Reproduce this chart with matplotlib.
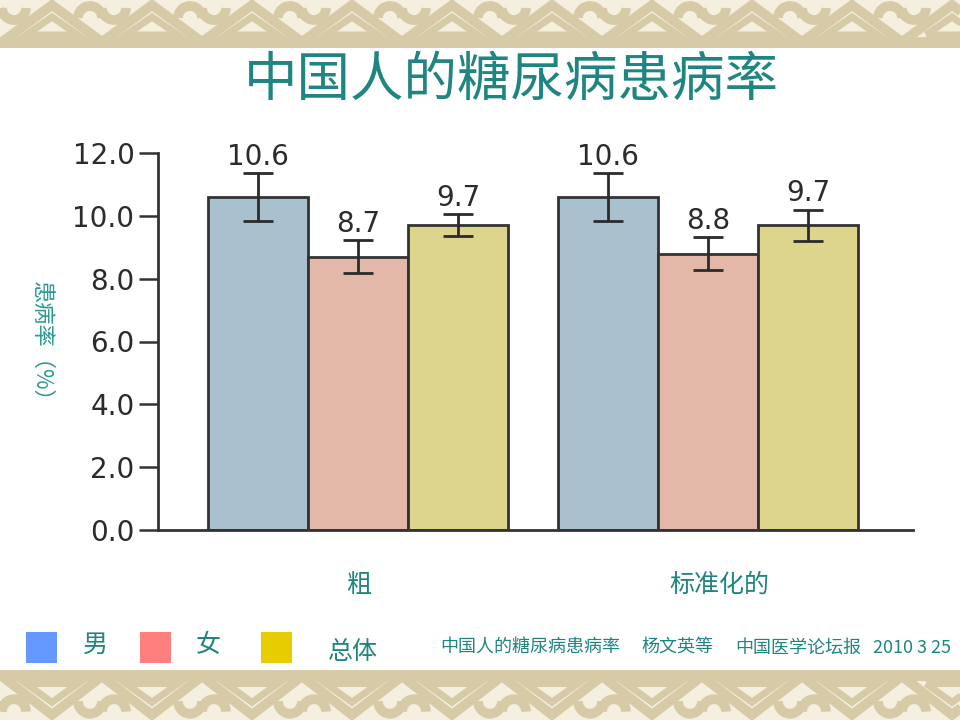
import matplotlib
matplotlib.use("Agg")
import matplotlib.pyplot as plt
from matplotlib.patches import Polygon, Rectangle
import numpy as np

# ---------------- data ----------------
groups = ["粗", "标准化的"]
series = ["男", "女", "总体"]
men_vals = [10.6, 10.6]
women_vals = [8.7, 8.8]
total_vals = [9.7, 9.7]
men_err = [0.75, 0.75]
women_err = [0.53, 0.53]
total_err = [0.35, 0.50]
value_labels_men = ["10.6", "10.6"]
value_labels_women = ["8.7", "8.8"]
value_labels_total = ["9.7", "9.7"]
yticks = [0, 2, 4, 6, 8, 10, 12]
ytick_labels = ["0.0", "2.0", "4.0", "6.0", "8.0", "10.0", "12.0"]
title = "中国人的糖尿病患病率"
ylabel = "患病率（%）"
source_parts = ["中国人的糖尿病患病率", "杨文英等", "中国医学论坛报", "2010 3 25"]

CJK = ["Noto Sans CJK SC", "DejaVu Sans"]
TEAL = "#1f8580"

bar_colors = ["#a9c1cf", "#e3b8a8", "#ddd58b"]
legend_colors = ["#6699ff", "#ff7f7f", "#e6cc00"]

fig = plt.figure(figsize=(9.6, 7.2), dpi=100)
fig.patch.set_facecolor("white")

# ---------------- decorative borders ----------------
def draw_border(y0, h, flip):
    bax = fig.add_axes([0, y0, 1, h])
    bax.set_xlim(0, 960)
    if flip:
        bax.set_ylim(0, 48)
    else:
        bax.set_ylim(48, 0)
    bax.set_facecolor("#f4efdf")
    bax.set_xticks([]); bax.set_yticks([])
    for s in bax.spines.values():
        s.set_visible(False)
    tan = "#d6caa7"
    for k in range(-1, 11):
        cx = 52 + 100 * k
        bax.add_patch(Polygon([[cx - 50, 42], [cx, 5], [cx + 50, 42]], closed=True,
                              fill=False, ec=tan, lw=7, joinstyle="miter"))
        bax.add_patch(Polygon([[cx - 26, 35], [cx, 17], [cx + 26, 35]], closed=True,
                              fill=False, ec=tan, lw=5, joinstyle="miter"))
        t = np.linspace(0, np.pi, 30)
        kx = cx + 50
        bax.plot(kx - 12 + 12 * np.cos(t), 18 - 12 * np.sin(t), color=tan, lw=7,
                 solid_capstyle="butt")
        bax.plot(kx + 12 - 12 * np.cos(t), 8 + 12 * np.sin(t), color=tan, lw=7,
                 solid_capstyle="butt")
    bax.plot([0, 960], [46, 46], color=tan, lw=4)

draw_border(1 - 48 / 720, 48 / 720, False)
draw_border(0, 50 / 720, True)

# ---------------- main axes ----------------
ax = fig.add_axes([158 / 960, 1 - 530 / 720, (913 - 158) / 960, (530 - 153) / 720])
ax.set_facecolor("white")

offsets = [0.0, 3.5]
vals = [men_vals, women_vals, total_vals]
errs = [men_err, women_err, total_err]
labs = [value_labels_men, value_labels_women, value_labels_total]

for si in range(3):
    xs = [offsets[g] + si + 0.5 for g in range(len(groups))]
    ax.bar(xs, vals[si], width=1.0, color=bar_colors[si], edgecolor="#333333",
           linewidth=2.0, zorder=2)
    ax.errorbar(xs, vals[si], yerr=errs[si], fmt="none", ecolor="#2b2b2b",
                elinewidth=2.0, capsize=11, capthick=2.0, zorder=3)
    for g in range(len(groups)):
        ax.annotate(labs[si][g], (xs[g], vals[si][g] + errs[si][g]),
                    xytext=(0, 6), textcoords="offset points", ha="center",
                    va="baseline", fontsize=20, color="#2b2b2b",
                    family="DejaVu Sans")

ax.set_xlim(-0.5, 7.05)
ax.set_ylim(0, 12)
ax.set_yticks(yticks)
ax.set_yticklabels(ytick_labels, fontsize=20, color="#2b2b2b", family="DejaVu Sans")
ax.set_xticks([])
ax.tick_params(axis="y", length=14, width=1.8, color="#333333", pad=3)
for side in ["top", "right"]:
    ax.spines[side].set_visible(False)
for side in ["left", "bottom"]:
    ax.spines[side].set_color("#333333")
    ax.spines[side].set_linewidth(2.0)

# category labels
cat_x = [360, 719]
for g, name in enumerate(groups):
    fig.text(cat_x[g] / 960, 1 - 585 / 720, name, ha="center", va="center",
             fontsize=18, color=TEAL, family=CJK)

# title and y label
fig.text(511 / 960, 1 - 80 / 720, title, ha="center", va="center", fontsize=38.5,
         color=TEAL, family=CJK)
fig.text(42 / 960, 1 - 347 / 720, ylabel, ha="center", va="center", fontsize=16,
         color="#2a9a92", family=CJK, rotation=270)

# legend
sq_x = [26, 140, 261]
lab_x = [95, 208, 353]
lab_y = [645, 645, 652]
for i in range(3):
    fig.patches.append(Rectangle((sq_x[i] / 960, 1 - 663 / 720), 31 / 960, 31 / 720,
                                 transform=fig.transFigure, facecolor=legend_colors[i],
                                 edgecolor="none"))
    fig.text(lab_x[i] / 960, 1 - lab_y[i] / 720, series[i], ha="center", va="center",
             fontsize=18, color=TEAL, family=CJK)

# source
src_x = [440, 641, 735, 873]
for sx, txt in zip(src_x, source_parts):
    fig.text(sx / 960, 1 - 648 / 720, txt, ha="left", va="center", fontsize=13,
             color=TEAL, family=CJK)

fig.savefig("out.png", dpi=100, facecolor="white")
